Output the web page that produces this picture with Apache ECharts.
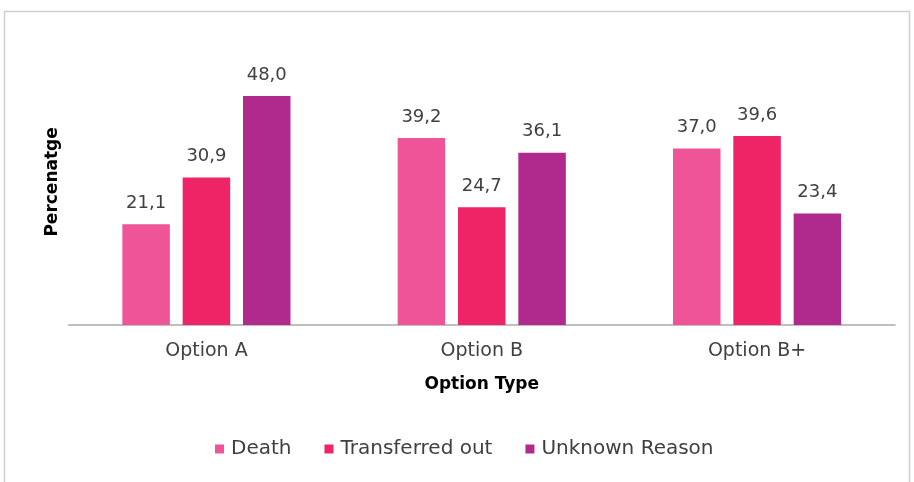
<!DOCTYPE html>
<html><head><meta charset="utf-8">
<script src="https://cdn.jsdelivr.net/npm/echarts@6/dist/echarts.min.js"></script>
<style>html,body{margin:0;padding:0;background:#fff}#c{width:914px;height:482px}</style>
</head><body><div id="c"></div>
<script>
const categories = ['Option A', 'Option B', 'Option B+'];
const seriesNames = ['Death', 'Transferred out', 'Unknown Reason'];
const death = [21.1, 39.2, 37.0];
const transferred = [30.9, 24.7, 39.6];
const unknown = [48.0, 36.1, 23.4];
const colors = ['#EF5499', '#EE2467', '#B02A8E'];

const chart = echarts.init(document.getElementById('c'));
const font = 'DejaVu Sans';
const lbl = {show: true, position: 'top', distance: 12, color: '#404040', fontSize: 18, fontFamily: font,
  formatter: p => p.value.toFixed(1).replace('.', ',')};
const mk = (name, data, i) => ({name, type: 'bar', data, barWidth: 47.5, barGap: '27%',
  itemStyle: {color: colors[i]}, label: lbl});
chart.setOption({
  animation: false,
  textStyle: {fontFamily: font},
  graphic: [{type: 'rect', shape: {x: 4.5, y: 11.5, width: 905, height: 480},
    style: {fill: 'none', stroke: '#cfcfcf', lineWidth: 1.5}, silent: true}],
  grid: {left: 68.75, right: 19.25, top: 38.8, bottom: 157},
  legend: {bottom: 18, left: 210, itemWidth: 9, itemHeight: 9, itemGap: 33, icon: 'rect',
    textStyle: {fontSize: 20, color: '#404040', fontFamily: font, padding: [0, 0, 0, 2]},
    data: seriesNames},
  xAxis: {type: 'category', data: categories,
    axisLine: {lineStyle: {color: '#bfbfbf', width: 2}}, axisTick: {show: false},
    axisLabel: {color: '#404040', fontSize: 19, margin: 17, fontFamily: font},
    name: 'Option Type', nameLocation: 'middle', nameGap: 51,
    nameTextStyle: {fontWeight: 'bold', fontSize: 17, color: '#000', fontFamily: font}},
  yAxis: {type: 'value', min: 0, max: 60, show: true,
    axisLine: {show: false}, axisTick: {show: false}, axisLabel: {show: false}, splitLine: {show: false},
    name: 'Percenatge', nameLocation: 'middle', nameGap: 8,
    nameTextStyle: {fontWeight: 'bold', fontSize: 17, color: '#000', fontFamily: font}},
  series: [mk(seriesNames[0], death, 0), mk(seriesNames[1], transferred, 1), mk(seriesNames[2], unknown, 2)]
});
</script></body></html>
